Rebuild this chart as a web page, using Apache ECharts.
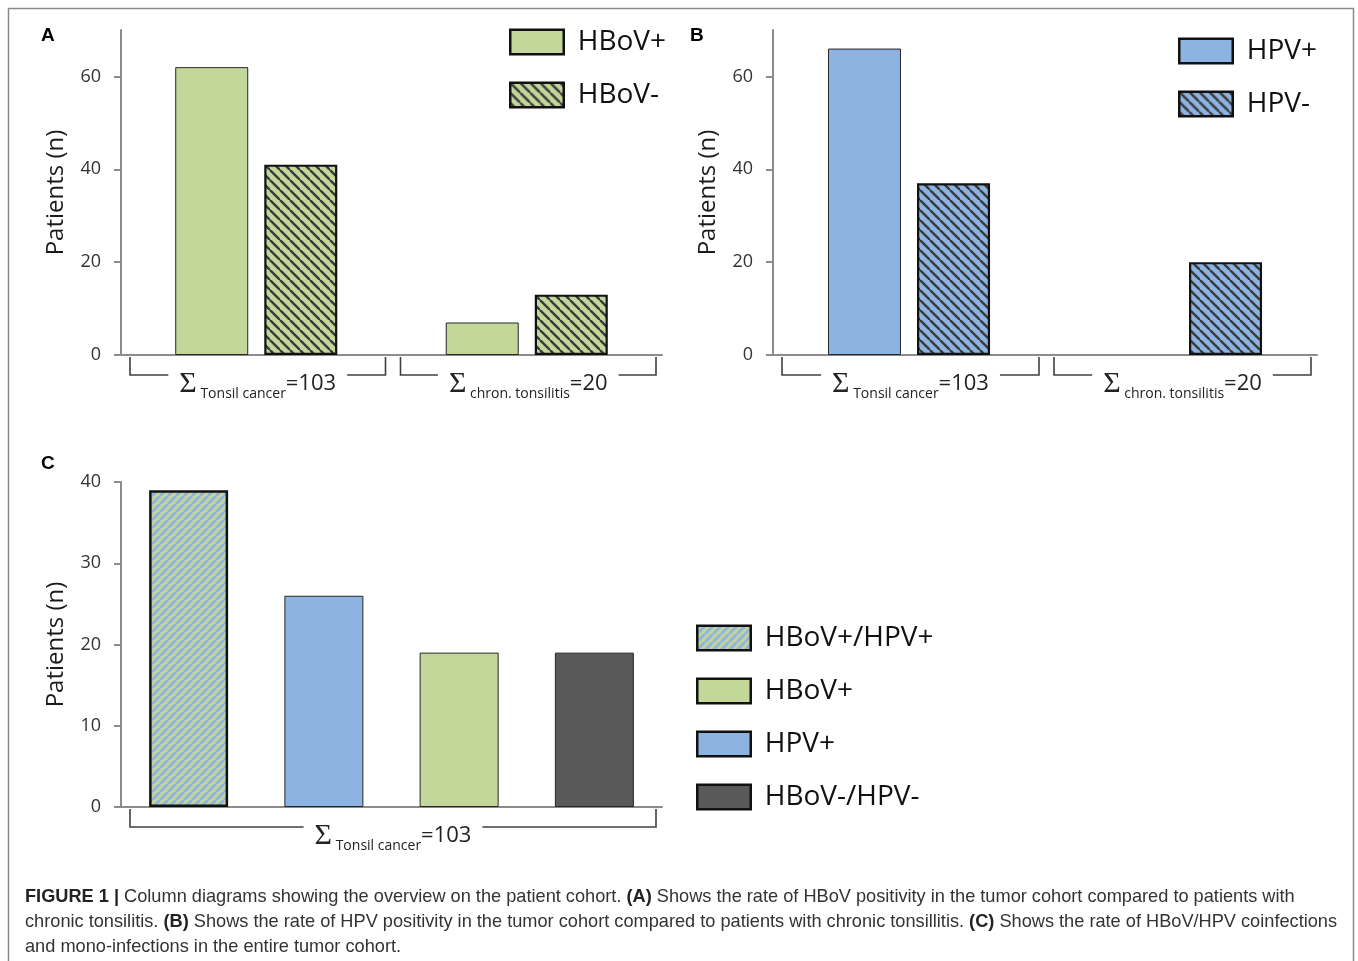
<!DOCTYPE html>
<html><head><meta charset="utf-8">
<script src="https://cdn.jsdelivr.net/npm/echarts@6/dist/echarts.min.js"></script>
<style>html,body{margin:0;padding:0;background:#fff}#c{width:1358px;height:961px}</style>
</head><body><div id="c"></div>
<script>
// ---------- data ----------
const groupsAB = ['Tonsil cancer', 'chron. tonsilitis'];
const groupTotalsAB = [103, 20];
const hbovPos = [62, 7];
const hbovNeg = [41, 13];
const hpvPos = [66, 0];
const hpvNeg = [37, 20];
const catsC = ['HBoV+/HPV+', 'HPV+', 'HBoV+', 'HBoV-/HPV-'];
const valuesC = [39, 26, 19, 19];
const groupC = 'Tonsil cancer';
const totalC = 103;
const ticksAB = [0, 20, 40, 60];
const ticksC = [0, 10, 20, 30, 40];
const legendA = ['HBoV+', 'HBoV-'];
const legendB = ['HPV+', 'HPV-'];
const legendC = ['HBoV+/HPV+', 'HBoV+', 'HPV+', 'HBoV-/HPV-'];
const yName = 'Patients (n)';
const captionLines = [
  '{b|FIGURE 1 |} Column diagrams showing the overview on the patient cohort. {b|(A)} Shows the rate of HBoV positivity in the tumor cohort compared to patients with',
  'chronic tonsilitis. {b|(B)} Shows the rate of HPV positivity in the tumor cohort compared to patients with chronic tonsillitis. {b|(C)} Shows the rate of HBoV/HPV coinfections',
  'and mono-infections in the entire tumor cohort.'
];

// ---------- styles ----------
const GREEN = '#C4D79B', BLUE = '#8DB3E2', DARK = '#595959';
const AXIS = '#8c8c8c';
const FONT = 'Open Sans';

function stripes(bg, fg, spacing, width, dir) {
  const c = document.createElement('canvas');
  c.width = spacing; c.height = spacing;
  const g = c.getContext('2d');
  g.fillStyle = bg; g.fillRect(0, 0, spacing, spacing);
  g.strokeStyle = fg; g.lineWidth = width;
  for (let k = -1; k <= 1; k++) {
    g.beginPath();
    if (dir === '\\') { g.moveTo(k * spacing, 0); g.lineTo(k * spacing + spacing, spacing); }
    else { g.moveTo(k * spacing, spacing); g.lineTo(k * spacing + spacing, 0); }
    g.stroke();
  }
  return { image: c, repeat: 'repeat' };
}
const hatchGreen = stripes(GREEN, '#3a3a3a', 10, 2.4, '\\');
const hatchBlue = stripes(BLUE, '#3a3a3a', 10, 2.4, '\\');
const hatchMix = stripes(GREEN, BLUE, 8, 2.9, '/');

function bracketRender(brackets) {
  return function (params, api) {
    const b = brackets[params.dataIndex];
    const p0 = api.coord([b.from, 0]), p1 = api.coord([b.to, 0]);
    const bw = api.size([1, 0])[0];
    const l = p0[0] - bw / 2 + 9, r = p1[0] + bw / 2 - 6, y = p0[1];
    const cx = (l + r) / 2;
    return {
      type: 'group', silent: true,
      children: [
        { type: 'polyline', shape: { points: [[l, y + 2], [l, y + 20], [r, y + 20], [r, y + 2]] },
          style: { stroke: '#404040', lineWidth: 1.6, fill: null } },
        { type: 'text', x: cx, y: y + 29,
          style: {
            text: '{s|Σ}{t| ' + b.label + '}{n|=' + b.total + '}',
            align: 'center', verticalAlign: 'middle',
            backgroundColor: '#fff', padding: [0, 11, 0, 11],
            rich: {
              s: { fontFamily: 'Liberation Serif', fontSize: 30, fill: '#222', lineHeight: 34, verticalAlign: 'middle' },
              t: { fontFamily: FONT, fontSize: 14, fill: '#222', lineHeight: 14, verticalAlign: 'bottom' },
              n: { fontFamily: FONT, fontSize: 22, fill: '#222', lineHeight: 26, verticalAlign: 'middle' }
            }
          } }
      ]
    };
  };
}

const bracketsA = groupsAB.map((g, i) => ({ from: i, to: i, label: g, total: groupTotalsAB[i] }));
const bracketsC = [{ from: 0, to: catsC.length - 1, label: groupC, total: totalC }];

function xAx(gi, data) {
  return { type: 'category', gridIndex: gi, data: data,
    axisLine: { show: true, lineStyle: { color: AXIS, width: 2 } },
    axisTick: { show: false }, axisLabel: { show: false } };
}
function yAx(gi, max, interval, ticks) {
  return { type: 'value', gridIndex: gi, min: 0, max: max, interval: interval,
    name: yName, nameLocation: 'middle', nameGap: 53,
    nameTextStyle: { fontFamily: FONT, fontSize: 24, color: '#1a1a1a' },
    axisLine: { show: true, lineStyle: { color: AXIS, width: 2 } },
    axisTick: { show: true, length: 7, lineStyle: { color: AXIS, width: 2 }, customValues: ticks },
    axisLabel: { fontFamily: FONT, fontSize: 18, color: '#333', margin: 20, customValues: ticks },
    splitLine: { show: false } };
}
function legendCfg(data, left, top) {
  return { data: data, orient: 'vertical', left: left, top: top, padding: 0,
    itemWidth: 53.5, itemHeight: 24.5, itemGap: 25, icon: 'rect', selectedMode: false,
    itemStyle: { borderColor: '#111', borderWidth: 2.5 },
    textStyle: { fontFamily: FONT, fontSize: 28, color: '#111', padding: [0, 0, 0, 9] } };
}
const zeroClean = arr => arr.map(v => v === 0 ? { value: 0, itemStyle: { borderWidth: 0 } } : v);

const thin = { borderColor: '#262626', borderWidth: 1 };
const series = [
  { type: 'bar', name: 'HBoV+', xAxisIndex: 0, yAxisIndex: 0, data: hbovPos, barWidth: 73, barGap: '22%',
    itemStyle: Object.assign({ color: GREEN }, thin) },
  { type: 'bar', name: 'HBoV-', xAxisIndex: 0, yAxisIndex: 0, data: hbovNeg, barWidth: 73, barGap: '22%',
    itemStyle: { color: hatchGreen, borderColor: '#111', borderWidth: 2.2 } },
  { type: 'bar', name: 'HPV+', xAxisIndex: 1, yAxisIndex: 1, data: zeroClean(hpvPos), barWidth: 73, barGap: '22%',
    itemStyle: Object.assign({ color: BLUE }, thin) },
  { type: 'bar', name: 'HPV-', xAxisIndex: 1, yAxisIndex: 1, data: hpvNeg, barWidth: 73, barGap: '22%',
    itemStyle: { color: hatchBlue, borderColor: '#111', borderWidth: 2.2 } },
  { type: 'custom', xAxisIndex: 0, yAxisIndex: 0, renderItem: bracketRender(bracketsA),
    data: bracketsA.map(b => [b.from, 0]), encode: { x: 0, y: 1 }, silent: true, z: 5 },
  { type: 'custom', xAxisIndex: 1, yAxisIndex: 1, renderItem: bracketRender(bracketsA),
    data: bracketsA.map(b => [b.from, 0]), encode: { x: 0, y: 1 }, silent: true, z: 5 },
  { type: 'custom', xAxisIndex: 2, yAxisIndex: 2, renderItem: bracketRender(bracketsC),
    data: bracketsC.map(b => [b.from, 0]), encode: { x: 0, y: 1 }, silent: true, z: 5 }
];
const styleC = {
  'HBoV+/HPV+': { color: hatchMix, borderColor: '#111', borderWidth: 2.5 },
  'HPV+': Object.assign({ color: BLUE }, thin),
  'HBoV+': Object.assign({ color: GREEN }, thin),
  'HBoV-/HPV-': Object.assign({ color: DARK }, thin)
};
catsC.forEach((c, i) => {
  series.push({ type: 'bar', name: c, xAxisIndex: 2, yAxisIndex: 2, stack: 'c', barWidth: 79,
    data: catsC.map((_, j) => j === i ? valuesC[i] : '-'), itemStyle: styleC[c] });
});

const graphic = [
  { type: 'rect', shape: { x: 8.5, y: 8.5, width: 1345, height: 975 }, style: { fill: null, stroke: '#8a8a8a', lineWidth: 1.5 }, silent: true },
  { type: 'text', x: 41, y: 36, style: { text: 'A', font: 'bold 19px "Liberation Sans"', fill: '#000', verticalAlign: 'middle' } },
  { type: 'text', x: 690, y: 36, style: { text: 'B', font: 'bold 19px "Liberation Sans"', fill: '#000', verticalAlign: 'middle' } },
  { type: 'text', x: 41, y: 464, style: { text: 'C', font: 'bold 19px "Liberation Sans"', fill: '#000', verticalAlign: 'middle' } }
];
captionLines.forEach((ln, i) => {
  graphic.push({ type: 'text', x: 25, y: 897 + i * 25, style: {
    text: ln, fontFamily: 'Liberation Sans', fontSize: 18.2, fill: '#333', verticalAlign: 'middle',
    rich: { b: { fontFamily: 'Liberation Sans', fontSize: 18.2, fontWeight: 'bold', fill: '#222' } } } });
});

const chart = echarts.init(document.getElementById('c'));
chart.setOption({
  animation: false,
  backgroundColor: '#fff',
  grid: [
    { left: 121, top: 30, width: 541, height: 325 },
    { left: 773, top: 30, width: 544, height: 325 },
    { left: 121, top: 482, width: 541, height: 325 }
  ],
  xAxis: [xAx(0, groupsAB), xAx(1, groupsAB), xAx(2, catsC)],
  yAxis: [yAx(0, 70, 20, ticksAB), yAx(1, 70, 20, ticksAB), yAx(2, 40, 10, ticksC)],
  legend: [legendCfg(legendA, 509, 28), legendCfg(legendB, 1178, 37), legendCfg(legendC, 696, 624)],
  series: series,
  graphic: graphic
});
</script></body></html>
